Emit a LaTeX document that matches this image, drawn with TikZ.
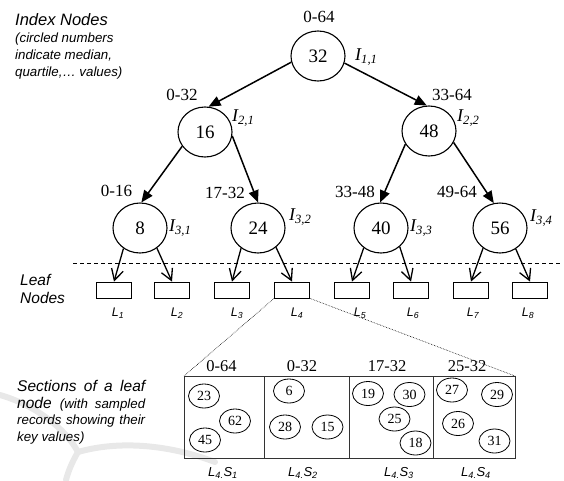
\documentclass[tikz,border=0pt]{standalone}
\usepackage{fontspec}
\setmainfont{Liberation Serif}
\newfontfamily\arialf{Liberation Sans}
\usetikzlibrary{shapes.geometric,arrows.meta}
\tikzset{
  tnode/.style={ellipse, draw, line width=1.1pt, minimum width=54pt, minimum height=50pt, inner sep=0pt, font=\fontsize{19}{19}\selectfont},
  rng/.style={inner sep=0pt, font=\fontsize{17}{17}\selectfont},
  ilab/.style={inner sep=0pt, anchor=west, font=\fontsize{18}{18}\selectfont\itshape},
  leafbox/.style={draw, line width=0.8pt, minimum width=35pt, minimum height=16pt, inner sep=0pt},
  leaflab/.style={inner sep=0pt, font=\arialf\itshape\fontsize{12.5}{13}\selectfont},
  tarrow/.style={line width=1.5pt, -{Triangle[length=12pt,width=10pt]}},
  larrow/.style={line width=1.3pt, -{Straight Barb[length=11pt,width=12pt]}},
  rec/.style={ellipse, draw, line width=0.8pt, minimum width=31pt, minimum height=24pt, inner sep=0pt, font=\fontsize{14}{14}\selectfont},
  sechead/.style={inner sep=0pt, font=\fontsize{16.5}{17}\selectfont},
  seclab/.style={inner sep=0pt, font=\arialf\itshape\fontsize{13}{13}\selectfont},
  side/.style={inner sep=0pt, anchor=base west, font=\arialf\itshape},
  sidebig/.style={side, font=\arialf\itshape\fontsize{15.5}{16}\selectfont},
  sidesmall/.style={side, font=\arialf\itshape\fontsize{13.3}{14}\selectfont},
  wmark/.style={draw=black!9, line width=6pt, line cap=round}
}
\begin{document}
\begin{tikzpicture}[x=1pt,y=-1pt]
\useasboundingbox (0,0) rectangle (564,480);
% faint watermark
\path[wmark] (0,395) .. controls (35,405) and (65,428) .. (78,452);
\path[wmark] (78,452) .. controls (120,440) and (170,445) .. (215,462);
\path[wmark] (78,452) .. controls (72,462) and (68,472) .. (66,480);

% tree nodes
\node[tnode] (n32) at (318,56) {32};
\node[tnode] (n16) at (205,132) {16};
\node[tnode] (n48) at (429,131) {48};
\node[tnode] (n8)  at (140,228) {8};
\node[tnode] (n24) at (258,228) {24};
\node[tnode] (n40) at (381,228) {40};
\node[tnode] (n56) at (500,228) {56};

% range labels
\node[rng] (r1) at (319,17) {0-64};
\node[rng] (r2) at (182,95) {0-32};
\node[rng] (r3) at (452,94.5) {33-64};
\node[rng] (r4) at (116.5,190.5) {0-16};
\node[rng] (r5) at (225,192.5) {17-32};
\node[rng] (r6) at (355,192) {33-48};
\node[rng] (r7) at (457,192) {49-64};

% index labels
\node[ilab] (i11) at (355,57) {I\textsubscript{1,1}};
\node[ilab] (i21) at (232,118) {I\textsubscript{2,1}};
\node[ilab] (i22) at (457,118) {I\textsubscript{2,2}};
\node[ilab] (i31) at (169,228) {I\textsubscript{3,1}};
\node[ilab] (i32) at (289,217) {I\textsubscript{3,2}};
\node[ilab] (i33) at (410,228) {I\textsubscript{3,3}};
\node[ilab] (i34) at (530,218) {I\textsubscript{3,4}};

% tree arrows
\draw[tarrow] (n32.193) -- (n16.82);
\draw[tarrow] (n32.345) -- (n48.95);
\draw[tarrow] (n16.212) -- (n8.87);
\draw[tarrow] (n16.352) -- (n24.90);
\draw[tarrow] (n48.209) -- (n40.92);
\draw[tarrow] (n48.335) -- (n56.104);

% dashed separator
\coordinate (dl) at (73,263);
\coordinate (dr) at (562,263);
\draw[line width=0.8pt, dash pattern=on 4pt off 3pt] (dl) -- (dr);

% leaf boxes
\node[leafbox] (L1) at (114,290) {};
\node[leafbox] (L2) at (172,290) {};
\node[leafbox] (L3) at (232,290) {};
\node[leafbox] (L4) at (292,290) {};
\node[leafbox] (L5) at (352,290) {};
\node[leafbox] (L6) at (411,290) {};
\node[leafbox] (L7) at (471,290) {};
\node[leafbox] (L8) at (530,290) {};

\node[leaflab] (l1) at (118,313) {L\textsubscript{1}};
\node[leaflab] (l2) at (177,313) {L\textsubscript{2}};
\node[leaflab] (l3) at (237,313) {L\textsubscript{3}};
\node[leaflab] (l4) at (297,313) {L\textsubscript{4}};
\node[leaflab] (l5) at (360,313) {L\textsubscript{5}};
\node[leaflab] (l6) at (413,313) {L\textsubscript{6}};
\node[leaflab] (l7) at (473,313) {L\textsubscript{7}};
\node[leaflab] (l8) at (528,313) {L\textsubscript{8}};

% leaf arrows
\draw[larrow] (n8.231) -- (L1.north);
\draw[larrow] (n8.310) -- (L2.north);
\draw[larrow] (n24.230) -- (L3.north);
\draw[larrow] (n24.313) -- (L4.north);
\draw[larrow] (n40.229) -- (L5.north);
\draw[larrow] (n40.315) -- (L6.north);
\draw[larrow] (n56.230) -- (L7.north);
\draw[larrow] (n56.307) -- (L8.north);

% section box
\coordinate (s0t) at (184,376);
\coordinate (s1t) at (264,376);
\coordinate (s2t) at (349,376);
\coordinate (s3t) at (433,376);
\coordinate (s4t) at (515,376);
\coordinate (s0b) at (184,458);
\coordinate (s1b) at (264,458);
\coordinate (s2b) at (349,458);
\coordinate (s3b) at (433,458);
\coordinate (s4b) at (515,458);
\draw[line width=0.9pt, draw=black!80] (s0t) rectangle (s4b);
\draw[line width=0.9pt, draw=black!80] (s1t) -- (s1b) (s2t) -- (s2b) (s3t) -- (s3b);

% dotted zoom lines
\draw[line width=0.6pt, densely dotted] (L4.south west) -- (s0t);
\draw[line width=0.6pt, densely dotted] (L4.south east) -- (s4t);

% section headers
\node[sechead] (h1) at (221.5,366) {0-64};
\node[sechead] (h2) at (302,366) {0-32};
\node[sechead] (h3) at (387,366) {17-32};
\node[sechead] (h4) at (467,366) {25-32};

% records
\node[rec] (k23) at (204,396) {23};
\node[rec] (k62) at (235,421) {62};
\node[rec] (k45) at (205,440) {45};
\node[rec] (k6)  at (289,391) {6};
\node[rec] (k28) at (285,427) {28};
\node[rec] (k15) at (327.5,427) {15};
\node[rec] (k19) at (368,393.5) {19};
\node[rec] (k30) at (409.5,394.5) {30};
\node[rec] (k25) at (394.5,419) {25};
\node[rec] (k18) at (415.5,443) {18};
\node[rec] (k27) at (452,390) {27};
\node[rec] (k29) at (497,394.5) {29};
\node[rec] (k26) at (458,423.5) {26};
\node[rec] (k31) at (494.5,441) {31};

% section labels
\node[seclab] (sl1) at (223,473) {L\textsubscript{4.}S\textsubscript{1}};
\node[seclab] (sl2) at (303,473) {L\textsubscript{4.}S\textsubscript{2}};
\node[seclab] (sl3) at (399,473) {L\textsubscript{4.}S\textsubscript{3}};
\node[seclab] (sl4) at (476,473) {L\textsubscript{4.}S\textsubscript{4}};

% side texts
\node[sidebig, font=\arialf\itshape\fontsize{16.5}{17}\selectfont] (t1) at (15,25) {Index Nodes};
\node[sidesmall] (t2) at (15,42) {(circled numbers};
\node[sidesmall] (t3) at (15,59) {indicate median,};
\node[sidesmall] (t4) at (15,76) {quartile,… values)};

\node[sidebig] (t5) at (20,285) {Leaf};
\node[sidebig] (t6) at (20,303) {Nodes};

\node[sidebig] (t7) at (17,391) {\makebox[128pt][s]{Sections of a leaf}};
\node[sidesmall] (t8) at (17,408) {\makebox[128pt][s]{\fontsize{15.5}{16}\selectfont node \fontsize{13.3}{14}\selectfont (with sampled}};
\node[sidesmall] (t9) at (17,424) {\makebox[128pt][s]{records showing their}};
\node[sidesmall] (t10) at (17,441) {key values)};
\end{tikzpicture}
\end{document}
